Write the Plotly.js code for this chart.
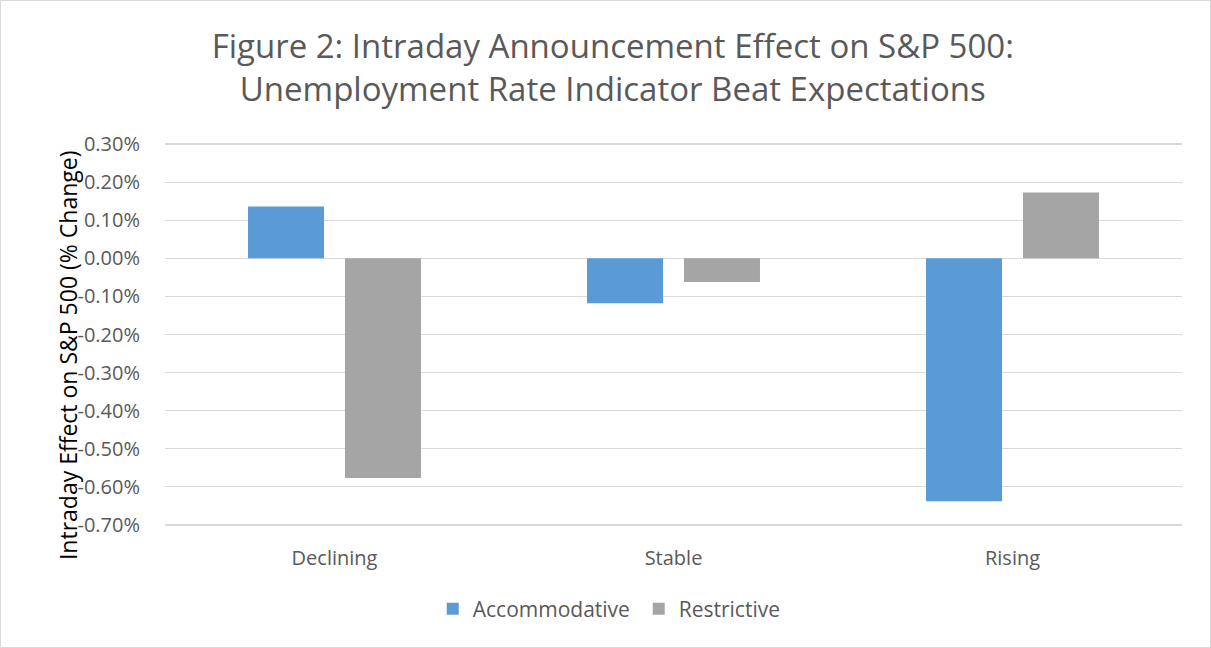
<!DOCTYPE html>
<html>
<head>
<meta charset="utf-8">
<script src="https://cdn.plot.ly/plotly-3.0.1.min.js"></script>
<style>
html,body{margin:0;padding:0;background:#fff;}
#wrap{position:relative;width:1211px;height:648px;}
#chart{width:1211px;height:648px;}
#frame{position:absolute;left:0;top:0;width:1211px;height:648px;box-sizing:border-box;border:1px solid #d9d9d9;pointer-events:none;}
</style>
</head>
<body>
<div id="wrap"><div id="chart"></div><div id="frame"></div></div>
<script>
var categories = ["Declining", "Stable", "Rising"];
var accommodative = [0.136, -0.118, -0.638];
var restrictive = [-0.577, -0.062, 0.173];
var tickValues = [0.3, 0.2, 0.1, 0, -0.1, -0.2, -0.3, -0.4, -0.5, -0.6, -0.7];
var tickLabels = ["0.30%", "0.20%", "0.10%", "0.00%", "-0.10%", "-0.20%", "-0.30%", "-0.40%", "-0.50%", "-0.60%", "-0.70%"];

var FONT = "Open Sans, Noto Sans, sans-serif";
var traces = [
  {type: "bar", name: "Accommodative", x: categories, y: accommodative,
   marker: {color: "#5B9BD5"}, hoverinfo: "skip"},
  {type: "bar", name: "Restrictive", x: categories, y: restrictive,
   marker: {color: "#A5A5A5"}, hoverinfo: "skip"}
];

var layout = {
  width: 1211, height: 648,
  margin: {l: 165, r: 29, t: 143, b: 122},
  paper_bgcolor: "#fff", plot_bgcolor: "#fff",
  barmode: "group", bargap: 0.428, bargroupgap: 0.216,
  showlegend: true,
  font: {family: FONT, color: "#595959"},
  title: {
    text: "Figure 2: Intraday Announcement Effect on S&P 500:<br>Unemployment Rate Indicator Beat Expectations",
    font: {family: FONT, size: 33, color: "#595959"},
    xref: "container", x: 0.506, xanchor: "center",
    yref: "container", y: 1 - 58/648, yanchor: "middle"
  },
  xaxis: {
    type: "category",
    showgrid: false, zeroline: false, showline: false,
    ticks: "outside", ticklen: 14, tickcolor: "rgba(0,0,0,0)",
    tickfont: {family: FONT, size: 20, color: "#595959"}
  },
  yaxis: {
    range: [-0.703, 0.303],
    tickvals: tickValues, ticktext: tickLabels,
    showgrid: true, gridcolor: "#D9D9D9", gridwidth: 1.3,
    zeroline: true, zerolinecolor: "#D9D9D9", zerolinewidth: 1.3,
    showline: false,
    ticks: "outside", ticklen: 20, tickcolor: "rgba(0,0,0,0)",
    tickfont: {family: FONT, size: 20, color: "#595959"}
  },
  legend: {
    orientation: "h", xref: "paper", yref: "paper",
    x: (433 - 165) / 1018, xanchor: "left",
    y: (525 - 608) / 383, yanchor: "middle",
    font: {family: FONT, size: 21, color: "#595959"},
    itemwidth: 30, tracegroupgap: 0,
    entrywidth: 161, entrywidthmode: "pixels"
  },
  annotations: [{
    text: "Intraday Effect on S&P 500 (% Change)",
    xref: "paper", yref: "paper",
    x: (68 - 165) / 1018, y: (525 - 354) / 383,
    xanchor: "center", yanchor: "middle",
    textangle: -90, showarrow: false,
    font: {family: FONT, size: 23, color: "#000"}
  }],
  hovermode: false
};

Plotly.newPlot("chart", traces, layout, {displayModeBar: false, staticPlot: true});
</script>
</body>
</html>
